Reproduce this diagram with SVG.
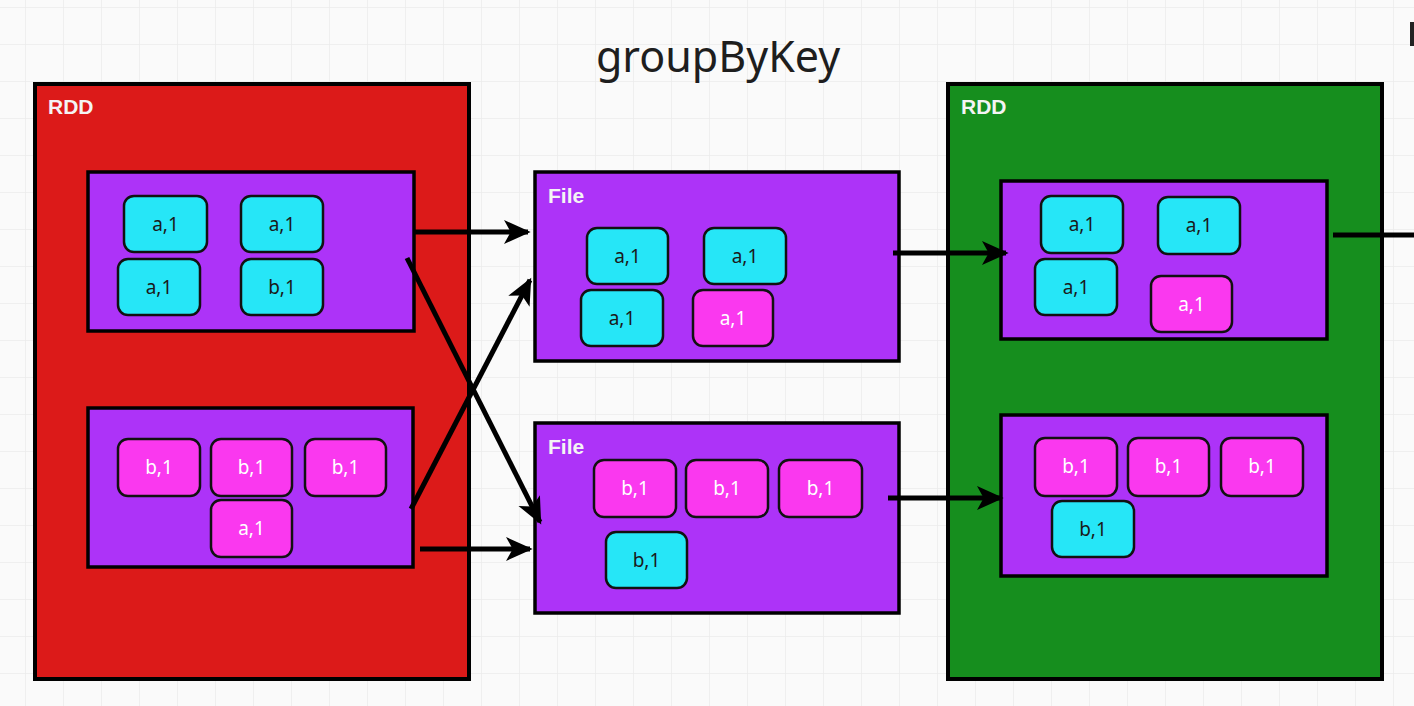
<svg xmlns="http://www.w3.org/2000/svg" width="1414" height="706" viewBox="0 0 1414 706">
<defs>
<pattern id="grid" width="38" height="37" patternUnits="userSpaceOnUse" x="25" y="7">
<path d="M0 0 H38 M0 0 V37" fill="none" stroke="#ebebeb" stroke-width="1.5"/>
</pattern>
<marker id="arr" viewBox="0 0 12 12" refX="10" refY="6" markerWidth="32" markerHeight="32" markerUnits="userSpaceOnUse" orient="auto">
<path d="M1 1.5 L11 6 L1 10.5 L3.5 6 Z" fill="#000"/>
</marker>
<style>
.rdd{stroke:#000;stroke-width:4}
.red{fill:#dc1a19}
.green{fill:#168e1e}
.part{fill:#ad33f8;stroke:#000;stroke-width:3.5}
.c{fill:#26e6f7;stroke:#111;stroke-width:2.5}
.p{fill:#fa38ef;stroke:#111;stroke-width:2.5}
.lbl{font-family:"Liberation Sans",Arial,sans-serif;font-weight:bold;font-size:21px;fill:#f4f4f4}
.t{font-family:"Noto Sans","DejaVu Sans",sans-serif;font-size:19px;text-anchor:middle}
.tc{fill:#1a1a1a}
.tp{fill:#ffffff}
.title{font-family:"Noto Sans","DejaVu Sans",sans-serif;font-size:43px;fill:#1e1e1e;text-anchor:middle}
.con{stroke:#000;stroke-width:5;fill:none;marker-end:url(#arr)}
.con2{stroke:#000;stroke-width:5;fill:none}
</style>
</defs>
<rect width="1414" height="706" fill="#fafafa"/>
<rect width="1414" height="706" fill="url(#grid)"/>
<text class="title" x="718" y="72">groupByKey</text>
<rect x="1410" y="22" width="4" height="24" fill="#222"/>

<g id="rdd-left">
<rect class="rdd red" x="35" y="84" width="434" height="595"/>
<text class="lbl" x="48" y="114">RDD</text>
</g>
<g id="left-part1">
<rect class="part" x="88" y="172" width="326" height="159"/>
<rect class="c" x="124" y="196" width="83" height="56" rx="10"/><text class="t tc" x="165.5" y="231">a,1</text>
<rect class="c" x="241" y="196" width="82" height="56" rx="10"/><text class="t tc" x="282" y="231">a,1</text>
<rect class="c" x="118" y="259" width="82" height="56" rx="10"/><text class="t tc" x="159" y="294">a,1</text>
<rect class="c" x="241" y="259" width="82" height="56" rx="10"/><text class="t tc" x="282" y="294">b,1</text>
</g>
<g id="left-part2">
<rect class="part" x="88" y="408" width="325" height="159"/>
<rect class="p" x="118" y="439" width="82" height="57" rx="10"/><text class="t tp" x="159" y="474">b,1</text>
<rect class="p" x="211" y="439" width="81" height="57" rx="10"/><text class="t tp" x="251.5" y="474">b,1</text>
<rect class="p" x="305" y="439" width="81" height="57" rx="10"/><text class="t tp" x="345.5" y="474">b,1</text>
<rect class="p" x="211" y="500" width="81" height="57" rx="10"/><text class="t tp" x="251.5" y="535">a,1</text>
</g>

<g id="file1">
<rect class="part" x="535" y="172" width="364" height="189"/>
<text class="lbl" x="548" y="203">File</text>
<rect class="c" x="587" y="228" width="81" height="56" rx="10"/><text class="t tc" x="627.5" y="263">a,1</text>
<rect class="c" x="704" y="228" width="82" height="56" rx="10"/><text class="t tc" x="745" y="263">a,1</text>
<rect class="c" x="581" y="290" width="82" height="56" rx="10"/><text class="t tc" x="622" y="325">a,1</text>
<rect class="p" x="693" y="290" width="80" height="56" rx="10"/><text class="t tp" x="733" y="325">a,1</text>
</g>
<g id="file2">
<rect class="part" x="535" y="423" width="364" height="190"/>
<text class="lbl" x="548" y="454">File</text>
<rect class="p" x="594" y="460" width="82" height="57" rx="10"/><text class="t tp" x="635" y="495">b,1</text>
<rect class="p" x="686" y="460" width="82" height="57" rx="10"/><text class="t tp" x="727" y="495">b,1</text>
<rect class="p" x="779" y="460" width="83" height="57" rx="10"/><text class="t tp" x="820.5" y="495">b,1</text>
<rect class="c" x="606" y="532" width="81" height="56" rx="10"/><text class="t tc" x="646.5" y="567">b,1</text>
</g>

<g id="rdd-right">
<rect class="rdd green" x="948" y="84" width="434" height="595"/>
<text class="lbl" x="961" y="114">RDD</text>
</g>
<g id="right-part1">
<rect class="part" x="1001" y="181" width="326" height="158"/>
<rect class="c" x="1041" y="196" width="82" height="57" rx="10"/><text class="t tc" x="1082" y="231">a,1</text>
<rect class="c" x="1158" y="197" width="82" height="57" rx="10"/><text class="t tc" x="1199" y="232">a,1</text>
<rect class="c" x="1035" y="259" width="82" height="56" rx="10"/><text class="t tc" x="1076" y="294">a,1</text>
<rect class="p" x="1151" y="276" width="81" height="56" rx="10"/><text class="t tp" x="1191.5" y="311">a,1</text>
</g>
<g id="right-part2">
<rect class="part" x="1001" y="415" width="326" height="161"/>
<rect class="p" x="1035" y="438" width="82" height="58" rx="10"/><text class="t tp" x="1076" y="473">b,1</text>
<rect class="p" x="1128" y="438" width="81" height="58" rx="10"/><text class="t tp" x="1168.5" y="473">b,1</text>
<rect class="p" x="1221" y="438" width="82" height="58" rx="10"/><text class="t tp" x="1262" y="473">b,1</text>
<rect class="c" x="1052" y="501" width="82" height="56" rx="10"/><text class="t tc" x="1093" y="536">b,1</text>
</g>

<g id="connectors">
<line class="con" x1="414" y1="232" x2="528" y2="232"/>
<line class="con" x1="407" y1="258" x2="540" y2="522"/>
<line class="con" x1="411" y1="509" x2="530" y2="280"/>
<line class="con" x1="420" y1="549" x2="530" y2="549"/>
<line class="con" x1="893" y1="253" x2="1006" y2="253"/>
<line class="con" x1="888" y1="498" x2="1001" y2="498"/>
<line class="con2" x1="1333" y1="235" x2="1414" y2="235"/>
</g>
</svg>
